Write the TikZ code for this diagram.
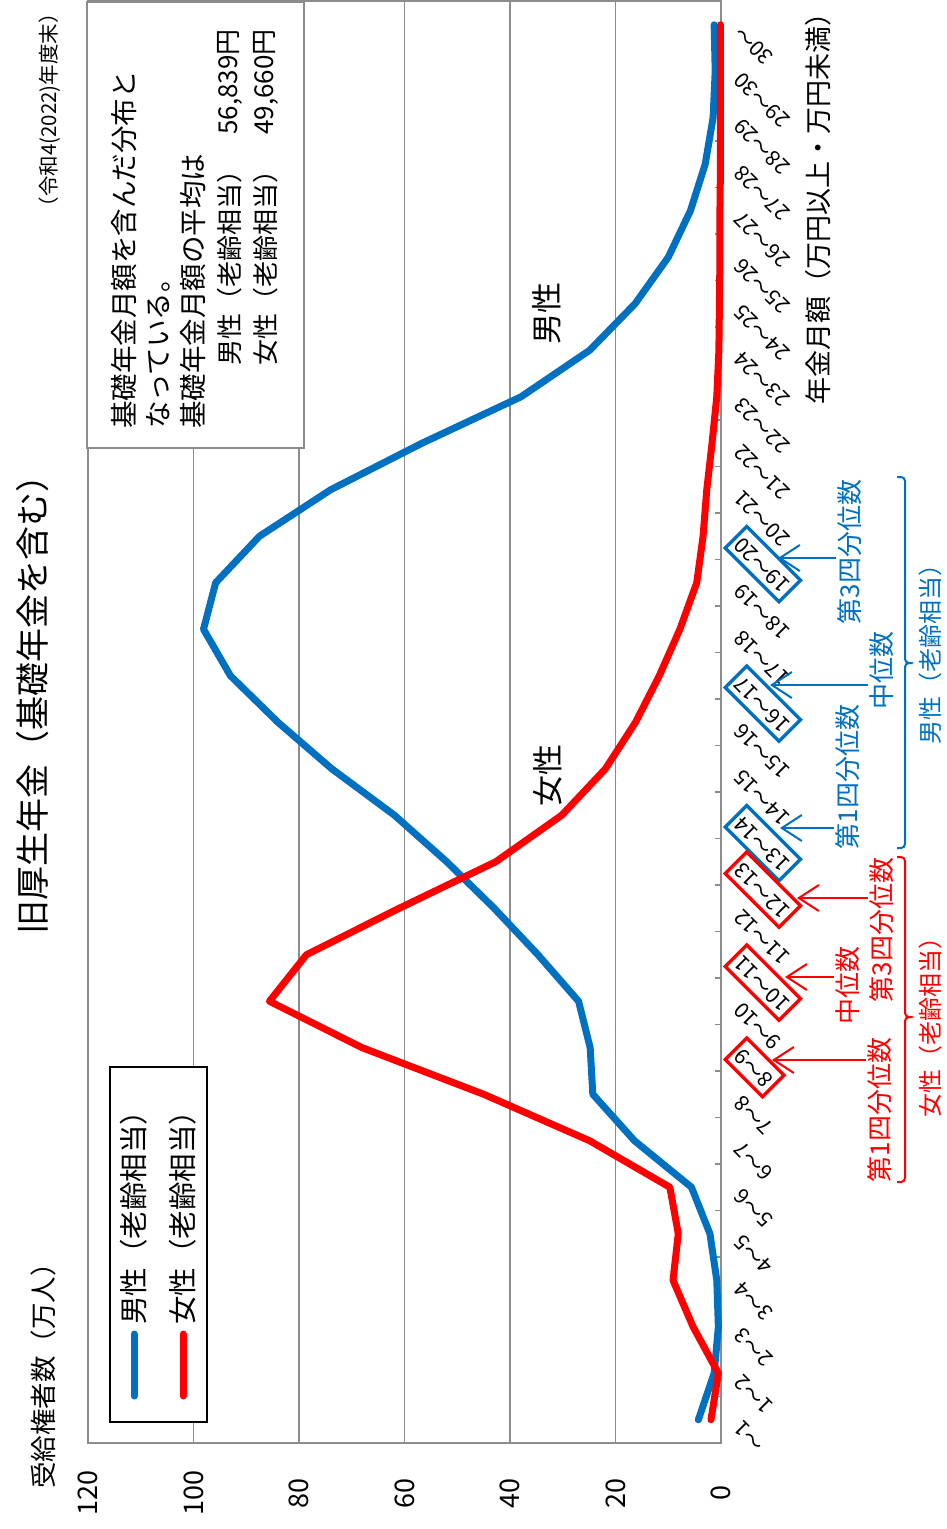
\documentclass[tikz,border=0pt]{standalone}
\usepackage{fontspec}
\setmainfont{Noto Sans CJK JP}
\usetikzlibrary{arrows.meta}
\definecolor{mblue}{HTML}{0070C0}
\definecolor{fred}{HTML}{FF0000}
\definecolor{gridc}{HTML}{8C8C8C}
\newcommand\fs[1]{\fontsize{#1}{#1}\selectfont}
\tikzset{
  gridline/.style={draw=gridc, line width=1.8pt},
  series/.style={line width=7pt, line join=round, line cap=round},
  catlab/.style={rotate=135, anchor=east, font=\fs{21}, inner xsep=4pt, inner ysep=6pt, text height=15pt, text depth=3pt},
  hlbox/.style={line width=3.3pt},
  ann/.style={rotate=90, font=\fs{26}, inner sep=2pt},
  annarrow/.style={line width=2pt, -{Straight Barb[length=20pt, width=26pt]}},
  brace/.style={line width=2pt, rounded corners=4pt},
  vtext/.style={rotate=90, inner sep=1pt},
}
\begin{document}
\begin{tikzpicture}[x=1pt,y=-1pt]
\useasboundingbox (0,0) rectangle (947,1529);
% grid
\foreach \v in {20,40,60,80,100} \draw[gridline] ({721-5.275*\v},0.9) -- ({721-5.275*\v},1443);
\draw[gridline] (721,0.9) rectangle (88,1443);
\foreach \k in {0,...,31} \draw[gridline] (715,{1443-46.5*\k}) -- (721,{1443-46.5*\k});
\draw[draw=gridc, line width=2.2pt] (721,0) -- (721,1443);
% tick labels
\foreach \v in {0,20,40,60,80,100,120}
  \node[vtext, font=\fs{27}] (yl\v) at ({721-5.275*\v},1493) {\v};
% series
\draw[series, mblue] (721-5.275*4.3,1419.75) \foreach \v [count=\i] in {1.3,0.5,0.8,2.1,5.6,16.4,24.3,24.8,27.0,34.7,43.0,52.0,61.9,73.8,84.0,93.0,98.1,95.8,87.5,74.0,56.7,37.9,24.9,16.3,10.0,5.8,3.0,1.5,1.1,1.3} { -- ({721-5.275*\v},{1419.75-46.5*\i}) };
\draw[series, fred] (721-5.275*1.9,1419.75) \foreach \v [count=\i] in {0.5,5.3,9.1,8.1,9.7,24.9,45.0,68.0,85.6,78.6,61.0,42.7,30.2,21.9,16.2,11.7,7.8,4.6,3.4,2.7,1.7,0.8,0.4,0.3,0.2,0.2,0.1,0.1,0.1,0.1} { -- ({721-5.275*\v},{1419.75-46.5*\i}) };
% info box
\node[draw=gridc, fill=white, line width=2pt, minimum width=217pt, minimum height=446pt, inner sep=0pt, anchor=north west] (info) at (86,1) {};
\node[vtext, anchor=west, font=\fs{27.5}] (i1) at (124,430) {基礎年金月額を含んだ分布と};
\node[vtext, anchor=west, font=\fs{27.5}] (i2) at (158,430) {なっている。};
\node[vtext, anchor=west, font=\fs{27.5}] (i3) at (193,430) {基礎年金月額の平均は};
\node[vtext, anchor=west, font=\fs{26}] (i4) at (230,367) {男性（老齢相当）};
\node[vtext, anchor=east, font=\fs{26}] (i4n) at (230,28) {56,839円};
\node[vtext, anchor=west, font=\fs{26}] (i5) at (266,367) {女性（老齢相当）};
\node[vtext, anchor=east, font=\fs{26}] (i5n) at (266,28) {49,660円};
% titles
\node[vtext, font=\fs{34}] (title) at (33,696) {旧厚生年金（基礎年金を含む）};
\node[vtext, anchor=east, font=\fs{20.5}] (date) at (50,2) {（令和4(2022)年度末）};
\node[vtext, anchor=west, font=\fs{26.5}] (ylab) at (43,1490) {受給権者数（万人）};
\node[vtext, anchor=west, font=\fs{27}] (xlab) at (818,406) {年金月額（万円以上・万円未満）};
\node[vtext, font=\fs{31}] (lm) at (547,313) {男性};
\node[vtext, font=\fs{31}] (lf) at (548,775) {女性};
% legend
\node[draw=black, fill=white, line width=1.8pt, minimum width=97pt, minimum height=355pt, inner sep=0pt] (legend) at (158.5,1244.5) {};
\draw[series, mblue] (134,1334) -- (134,1396);
\draw[series, fred] (183,1334) -- (183,1396);
\node[vtext, anchor=west, font=\fs{28.5}] (legm) at (134,1326) {男性（老齢相当）};
\node[vtext, anchor=west, font=\fs{28.5}] (legf) at (183,1326) {女性（老齢相当）};
% category labels
\foreach \lab [count=\i from 0] in {〜1,1〜2,2〜3,3〜4,4〜5,5〜6,6〜7,7〜8,8〜9,9〜10,10〜11,11〜12,12〜13,13〜14,14〜15,15〜16,16〜17,17〜18,18〜19,19〜20,20〜21,21〜22,22〜23,23〜24,24〜25,25〜26,26〜27,27〜28,28〜29,29〜30,30〜}
  \node[catlab] (cl\i) at (736,{1420.75-46.5*\i}) {\lab};
% highlight boxes
\foreach \c/\col in {13/mblue,16/mblue,19/mblue,8/fred,10/fred,12/fred}
  \draw[hlbox, \col] (cl\c.north west) -- (cl\c.north east) -- (cl\c.south east) -- (cl\c.south west) -- cycle;
% male annotations
\coordinate (tipM3) at (778,558);
\coordinate (tipMm) at (770,685);
\coordinate (tipM1) at (780,828);
\node[ann, mblue] (tM3) at (850,552) {第3四分位数};
\node[ann, mblue] (tMm) at (882,670) {中位数};
\node[ann, mblue] (tM1) at (848,777) {第1四分位数};
\draw[annarrow, mblue] (tM3.north |- tipM3) -- (tipM3);
\draw[annarrow, mblue] (tMm.north |- tipMm) -- (tipMm);
\draw[annarrow, mblue] (tM1.north |- tipM1) -- (tipM1);
\draw[brace, mblue] (897,477) -- (905,477) -- (905,663) -- (911,663) -- (905,663) -- (905,848) -- (897,848);
\node[ann, mblue, font=\fs{24}] (bm) at (930,648) {男性（老齢相当）};
% female annotations
\coordinate (tipF3) at (797,898);
\coordinate (tipFm) at (785,977);
\coordinate (tipF1) at (772,1060);
\node[ann, fred] (tF3) at (882,930) {第3四分位数};
\node[ann, fred] (tFm) at (848,985) {中位数};
\node[ann, fred] (tF1) at (880,1110) {第1四分位数};
\draw[annarrow, fred] (tF3.north |- tipF3) -- (tipF3);
\draw[annarrow, fred] (tFm.north |- tipFm) -- (tipFm);
\draw[annarrow, fred] (tF1.north |- tipF1) -- (tipF1);
\draw[brace, fred] (897,857) -- (905,857) -- (905,1017) -- (911,1017) -- (905,1017) -- (905,1182) -- (897,1182);
\node[ann, fred, font=\fs{24}] (bf) at (930,1021) {女性（老齢相当）};
\end{tikzpicture}
\end{document}
